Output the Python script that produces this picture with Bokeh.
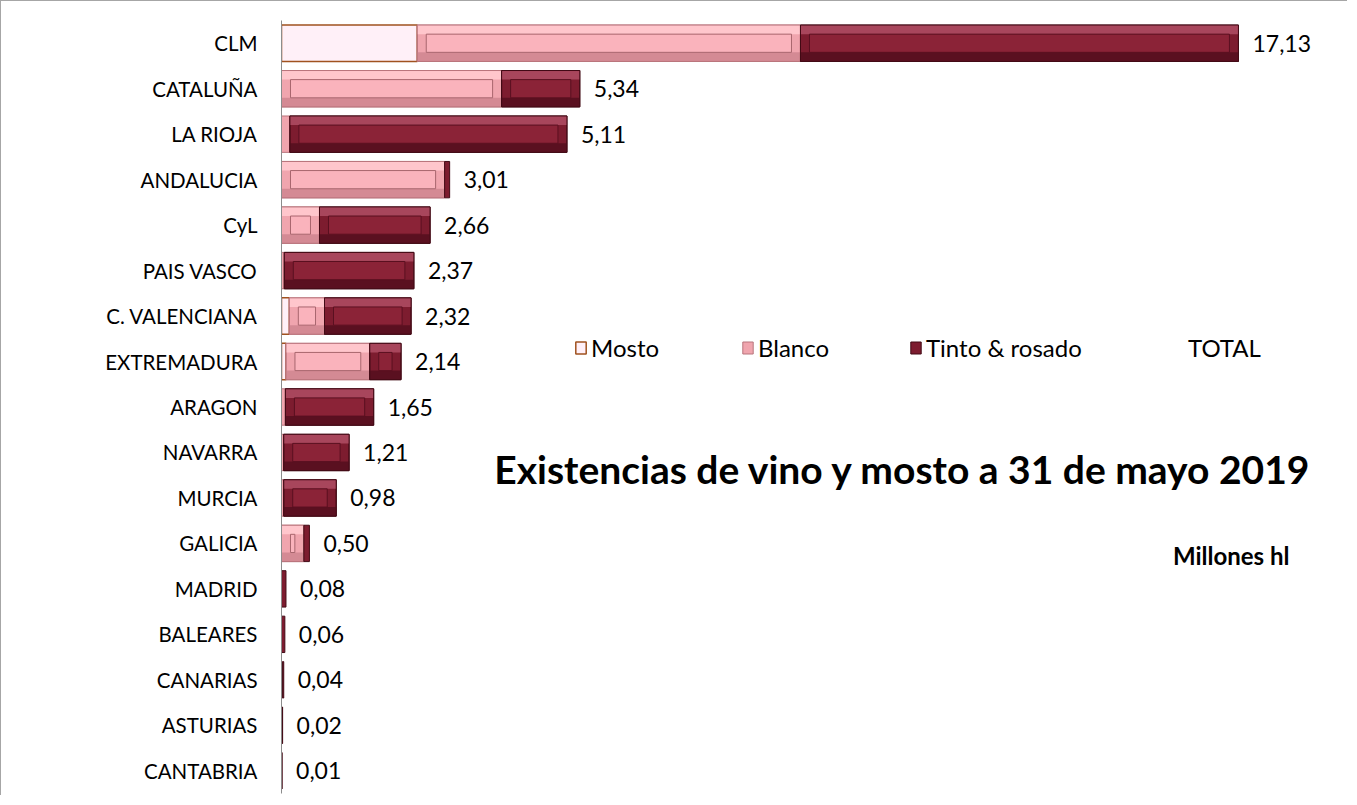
import numpy as np
from bokeh.plotting import figure
from bokeh.models import ColumnDataSource, Range1d, FactorRange, Legend, LegendItem, Label
from bokeh.embed import file_html
from bokeh.resources import INLINE
from bokeh.core.properties import value
from bokeh.transform import dodge

# ---------------- data (millones hl) ----------------
regions = ["CLM", "CATALUÑA", "LA RIOJA", "ANDALUCIA", "CyL", "PAIS VASCO",
           "C. VALENCIANA", "EXTREMADURA", "ARAGON", "NAVARRA", "MURCIA",
           "GALICIA", "MADRID", "BALEARES", "CANARIAS", "ASTURIAS", "CANTABRIA"]
mosto = [2.43, 0, 0, 0, 0, 0, 0.14, 0.08, 0, 0, 0, 0, 0, 0, 0, 0, 0]
blanco = [6.86, 3.94, 0.15, 2.92, 0.68, 0.05, 0.63, 1.50, 0.07, 0.04, 0.04,
          0.40, 0.00, 0.00, 0.02, 0.01, 0.005]
tinto = [7.84, 1.40, 4.96, 0.09, 1.98, 2.32, 1.55, 0.56, 1.58, 1.17, 0.94,
         0.10, 0.08, 0.06, 0.02, 0.01, 0.005]
total = [17.13, 5.34, 5.11, 3.01, 2.66, 2.37, 2.32, 2.14, 1.65, 1.21, 0.98,
         0.50, 0.08, 0.06, 0.04, 0.02, 0.01]
series_names = ["Mosto", "Blanco", "Tinto & rosado", "TOTAL"]
title_text = "Existencias de vino y mosto a 31 de mayo 2019"
units_text = "Millones hl"

FONT = "Lato"

# ---------------- figure ----------------
p = figure(
    y_range=FactorRange(factors=list(reversed(regions)), range_padding=0),
    x_range=Range1d(0, 19.10),
    width=1347, height=795,
    output_backend="svg", toolbar_location=None,
    min_border_left=280, min_border_right=0,
    min_border_top=19, min_border_bottom=3,
)
p.styles = {"border-left": "1px solid #a6a6a6", "border-top": "1px solid #a6a6a6"}
p.outline_line_color = None
p.xgrid.visible = False
p.ygrid.visible = False
p.xaxis.visible = False
p.background_fill_color = "white"
p.border_fill_color = "white"

ax = p.yaxis[0]
ax.axis_line_color = "#8c8c8c"
ax.axis_line_width = 1
ax.major_tick_line_color = None
ax.minor_tick_line_color = None
ax.major_tick_out = 0
ax.major_tick_in = 0
ax.major_label_standoff = 24
ax.major_label_text_font = FONT
ax.major_label_text_font_size = "20.5px"
ax.major_label_text_color = "#000000"

m = np.array(mosto, dtype=float)
b = np.array(blanco, dtype=float)
t = np.array(tinto, dtype=float)

BAR_H = 0.8
DX = 9 / 55.87   # bevel width in x units (px / px-per-unit)
DY = 0.2         # bevel height in category units


def bevel_series(left, right, colors):
    side, top, bottom, face, edge, inner = colors
    mask = (right - left) > 0
    cats = [r for r, k in zip(regions, mask) if k]
    L = left[mask]
    R = right[mask]
    src = ColumnDataSource(dict(cat=cats, left=L, right=R))
    outer = p.hbar(y="cat", left="left", right="right", height=BAR_H, source=src,
                   fill_color=side, line_color=edge, line_width=1)
    wide = (R - L) > 2.2 * DX
    wsrc = ColumnDataSource(dict(cat=[c for c, k in zip(cats, wide) if k],
                                 left=L[wide], right=R[wide],
                                 ileft=L[wide] + DX, iright=R[wide] - DX))
    p.hbar(y=dodge("cat", BAR_H / 2 - DY / 2, range=p.y_range), left="left", right="right",
           height=DY, source=wsrc, fill_color=top, line_color=None)
    p.hbar(y=dodge("cat", -(BAR_H / 2 - DY / 2), range=p.y_range), left="left", right="right",
           height=DY, source=wsrc, fill_color=bottom, line_color=None)
    p.hbar(y="cat", left="left", right="right", height=BAR_H, source=wsrc,
           fill_color=None, line_color=edge, line_width=1)
    p.hbar(y="cat", left="ileft", right="iright", height=BAR_H - 2 * DY, source=wsrc,
           fill_color=face, line_color=inner, line_width=1)
    return outer


# Mosto
mmask = m > 0
msrc = ColumnDataSource(dict(cat=[r for r, k in zip(regions, mmask) if k],
                             left=np.zeros(int(mmask.sum())), right=m[mmask]))
r_mosto = p.hbar(y="cat", left="left", right="right", height=BAR_H, source=msrc,
                 fill_color="#FFF0F8", line_color="#A0521F", line_width=1.5)

# Blanco
r_blanco = bevel_series(m, m + b,
                        ("#F0A5AE", "#FFC6CC", "#D48A94", "#FAB3BC", "#B9747C", "#A8666E"))
# Tinto & rosado
r_tinto = bevel_series(m + b, m + b + t,
                       ("#7D1C2F", "#A8465C", "#5A1020", "#8B2337", "#420A15", "#5A1020"))

# TOTAL (invisible series, used for data labels)
tsrc = ColumnDataSource(dict(cat=regions, total=total,
                             lab=[f"{v:.2f}".replace(".", ",") for v in total]))
r_total = p.hbar(y="cat", left=0, right="total", height=BAR_H, source=tsrc,
                 fill_alpha=0, line_alpha=0)
p.text(x="total", y="cat", text="lab", source=tsrc, x_offset=14,
       text_baseline="middle", text_align="left",
       text_font=value(FONT), text_font_size="23px", text_color="#000000")

# ---------------- legend (four separate boxes, Excel-like spacing) ----------------
leg_y = 431
for name, rend, lx in zip(series_names, [r_mosto, r_blanco, r_tinto, r_total],
                          [293, 460, 628, 890]):
    lg = Legend(items=[LegendItem(label=name, renderers=[rend])],
                location=(lx, leg_y), orientation="horizontal",
                background_fill_alpha=0, border_line_color=None,
                padding=0, margin=0, spacing=0,
                glyph_width=13, glyph_height=15, label_standoff=4,
                label_text_font=FONT, label_text_font_size="24px",
                label_text_color="#000000", label_height=24)
    p.add_layout(lg, "center")

# ---------------- titles ----------------
p.add_layout(Label(x=11.13, y=7.14, text=title_text, text_align="center",
                   text_baseline="middle", text_font=FONT, text_font_size="39px",
                   text_font_style="bold", text_color="#000000"))
p.add_layout(Label(x=17.0, y=5.23, text=units_text, text_align="center",
                   text_baseline="middle", text_font=FONT, text_font_size="24px",
                   text_font_style="bold", text_color="#000000"))

open("out.html", "w").write(file_html(p, INLINE))
